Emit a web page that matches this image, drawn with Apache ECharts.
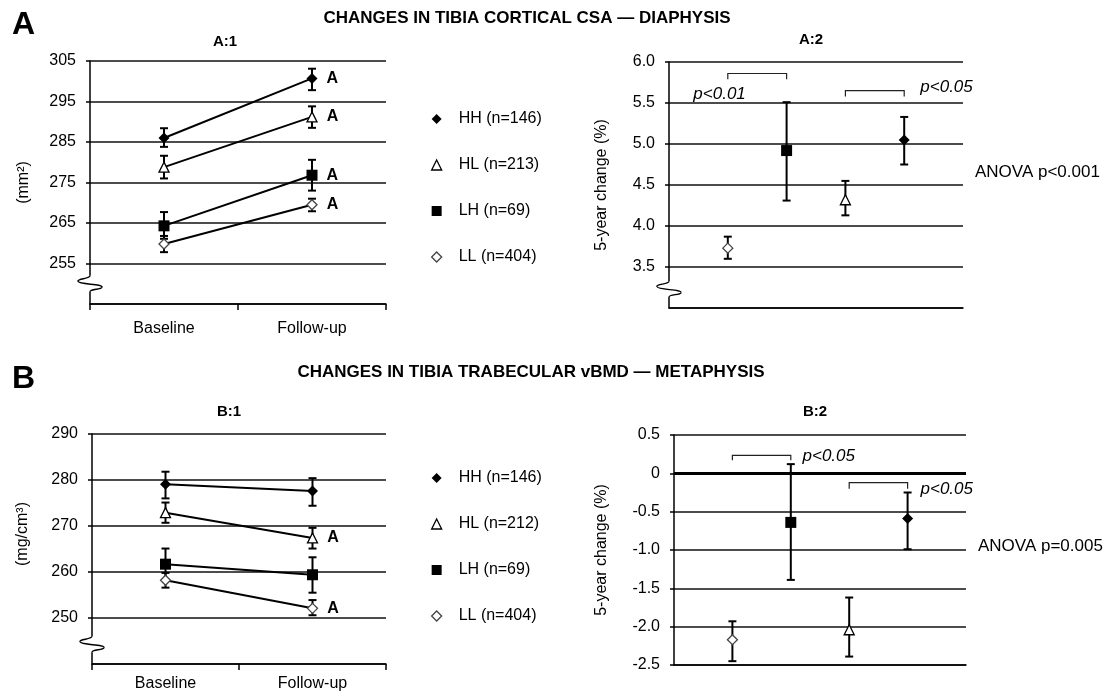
<!DOCTYPE html>
<html><head><meta charset="utf-8">
<script src="https://cdn.jsdelivr.net/npm/echarts@6/dist/echarts.min.js"></script>
<style>html,body{margin:0;padding:0;background:#fff}#c{width:1104px;height:696px}</style>
</head><body><div id="c"></div>
<script>
// ---------- DATA ----------
const timepoints = ['Baseline', 'Follow-up'];
const groupKeys = ['HH', 'HL', 'LH', 'LL'];
const legendA = ['HH (n=146)', 'HL (n=213)', 'LH (n=69)', 'LL (n=404)'];
const legendB = ['HH (n=146)', 'HL (n=212)', 'LH (n=69)', 'LL (n=404)'];

// A:1 tibia cortical CSA (mm²) — order HH, HL, LH, LL
const a1Base       = [286.0, 278.8, 264.3, 259.8];
const a1BaseLow    = [283.8, 276.0, 261.1, 257.8];
const a1BaseHigh   = [288.4, 281.6, 267.7, 261.8];
const a1Follow     = [300.7, 291.2, 276.8, 269.5];
const a1FollowLow  = [297.8, 288.5, 273.0, 267.9];
const a1FollowHigh = [303.1, 293.8, 280.6, 271.0];
const a1FollowSig  = ['A', 'A', 'A', 'A'];

// B:1 tibia trabecular vBMD (mg/cm³) — order HH, HL, LH, LL
const b1Base       = [279.1, 272.9, 261.7, 258.2];
const b1BaseLow    = [276.0, 270.7, 258.3, 256.6];
const b1BaseHigh   = [281.8, 275.1, 265.1, 259.8];
const b1Follow     = [277.6, 267.4, 259.4, 252.1];
const b1FollowLow  = [274.4, 265.1, 255.5, 250.6];
const b1FollowHigh = [280.4, 269.6, 263.2, 253.9];
const b1FollowSig  = ['', 'A', '', 'A'];

// A:2 / B:2 five-year change (%) — positions 1..4 = LL, LH, HL, HH
const changeGroups = ['LL', 'LH', 'HL', 'HH'];
const changePos = [1, 2, 3, 4];
const a2Mean = [3.73, 4.92, 4.32, 5.05];
const a2Low  = [3.60, 4.31, 4.13, 4.75];
const a2High = [3.87, 5.51, 4.55, 5.33];
const b2Mean = [-2.17, -0.64, -2.04, -0.59];
const b2Low  = [-2.45, -1.39, -2.39, -0.99];
const b2High = [-1.93, 0.12, -1.62, -0.25];

// comparison brackets: [from, to, level, tickEnd]
const a2Brackets = [[1, 2, 5.86, 5.79], [3, 4, 5.65, 5.58]];
const b2Brackets = [[1, 2, 0.235, 0.17], [3, 4, -0.12, -0.20]];
const a2PText = ['p<0.01', 'p<0.05'];
const a2PX = [0.86, 4.72];
const a2PY = [5.61, 5.69];
const b2PText = ['p<0.05', 'p<0.05'];
const b2PX = [2.65, 4.67];
const b2PY = [0.22, -0.21];
const anovaA = 'ANOVA p<0.001', anovaAY = 4.65;
const anovaB = 'ANOVA p=0.005', anovaBY = -0.95;

// ---------- STYLE ----------
const FONT = 'Liberation Sans, Arial, sans-serif';
const marker = {
  HH: {symbol: 'diamond', size: 11, color: '#000', border: '#000', bw: 0},
  HL: {symbol: 'triangle', size: 10, color: '#fff', border: '#000', bw: 1.3},
  LH: {symbol: 'rect', size: 11, color: '#000', border: '#000', bw: 0},
  LL: {symbol: 'diamond', size: 10, color: '#fff', border: '#444', bw: 1.3}
};

function errRender(params, api) {
  const x = api.value(0), lo = api.value(1), hi = api.value(2);
  const p1 = api.coord([x, hi]), p2 = api.coord([x, lo]);
  const w = 4, st = {stroke: '#000', lineWidth: 2};
  return {type: 'group', children: [
    {type: 'line', shape: {x1: p1[0], y1: p1[1], x2: p2[0], y2: p2[1]}, style: st},
    {type: 'line', shape: {x1: p1[0] - w, y1: p1[1], x2: p1[0] + w, y2: p1[1]}, style: st},
    {type: 'line', shape: {x1: p2[0] - w, y1: p2[1], x2: p2[0] + w, y2: p2[1]}, style: st}
  ]};
}
function bracketRender(params, api) {
  const a = api.coord([api.value(0), api.value(2)]);
  const b = api.coord([api.value(1), api.value(2)]);
  const t = api.coord([api.value(0), api.value(3)]);
  return {type: 'polyline', shape: {points: [[a[0], t[1]], a, b, [b[0], t[1]]]},
    style: {stroke: '#222', lineWidth: 1.2, fill: null}};
}
function textRender(texts, opts) {
  return function (params, api) {
    const p = api.coord([api.value(0), api.value(1)]);
    return {type: 'text', x: p[0] + (opts.dx || 0), y: p[1],
      style: {text: texts[params.dataIndex], fill: '#000', font: opts.font,
        align: opts.align, verticalAlign: 'middle'}};
  };
}

const series = [];
function addTimePanel(idx, names, base, bLo, bHi, fol, fLo, fHi, sig) {
  const errData = [];
  groupKeys.forEach((k, i) => {
    const m = marker[k];
    series.push({
      type: 'line', name: names[i], xAxisIndex: idx, yAxisIndex: idx, z: 3,
      symbol: m.symbol, symbolSize: m.size, showSymbol: true,
      itemStyle: {color: m.color, borderColor: m.border, borderWidth: m.bw},
      lineStyle: {color: '#000', width: 2},
      emphasis: {disabled: true},
      label: {show: false, position: 'right', distance: 9, color: '#000',
        fontWeight: 'bold', fontSize: 16, fontFamily: FONT, formatter: () => sig[i]},
      data: [base[i], {value: fol[i], label: {show: sig[i] !== ''}}]
    });
    errData.push([0, bLo[i], bHi[i]], [1, fLo[i], fHi[i]]);
  });
  series.push({type: 'custom', xAxisIndex: idx, yAxisIndex: idx, z: 2, silent: true,
    renderItem: errRender, encode: {x: 0, y: [1, 2]}, data: errData});
}
function addChangePanel(idx, mean, lo, hi, brackets, pText, pX, pY, anova, anovaY, zeroLine) {
  changeGroups.forEach((k, i) => {
    const m = marker[k];
    const s = {
      type: 'scatter', name: k + '-' + idx, xAxisIndex: idx, yAxisIndex: idx, z: 4,
      symbol: m.symbol, symbolSize: m.size, silent: true,
      itemStyle: {color: m.color, borderColor: m.border, borderWidth: m.bw, opacity: 1},
      data: [[changePos[i], mean[i]]]
    };
    if (zeroLine && i === 0) {
      s.markLine = {silent: true, symbol: 'none', label: {show: false},
        lineStyle: {color: '#000', width: 3, type: 'solid'}, data: [{yAxis: 0}]};
    }
    series.push(s);
  });
  series.push({type: 'custom', xAxisIndex: idx, yAxisIndex: idx, z: 2, silent: true,
    renderItem: errRender, encode: {x: 0, y: [1, 2]},
    data: changePos.map((p, i) => [p, lo[i], hi[i]])});
  series.push({type: 'custom', xAxisIndex: idx, yAxisIndex: idx, z: 2, silent: true,
    renderItem: bracketRender, data: brackets});
  series.push({type: 'custom', xAxisIndex: idx, yAxisIndex: idx, z: 5, silent: true,
    renderItem: textRender(pText, {font: 'italic 17px ' + FONT, align: 'center'}),
    data: pX.map((x, i) => [x, pY[i]])});
  series.push({type: 'custom', xAxisIndex: idx, yAxisIndex: idx, z: 5, silent: true,
    renderItem: textRender([anova], {font: '17px ' + FONT, align: 'left', dx: 12}),
    data: [[5, anovaY]]});
}
addTimePanel(0, legendA, a1Base, a1BaseLow, a1BaseHigh, a1Follow, a1FollowLow, a1FollowHigh, a1FollowSig);
addChangePanel(1, a2Mean, a2Low, a2High, a2Brackets, a2PText, a2PX, a2PY, anovaA, anovaAY, false);
addTimePanel(2, legendB, b1Base, b1BaseLow, b1BaseHigh, b1Follow, b1FollowLow, b1FollowHigh, b1FollowSig);
addChangePanel(3, b2Mean, b2Low, b2High, b2Brackets, b2PText, b2PX, b2PY, anovaB, anovaBY, true);

const axLine = {show: true, onZero: false, lineStyle: {color: '#000', width: 1.5}};
const split = {show: true, lineStyle: {color: '#111', width: 1.5}};
function catX(grid, margin) {
  return {type: 'category', gridIndex: grid, data: timepoints, boundaryGap: true,
    axisLine: axLine, axisTick: {show: true, length: 6, lineStyle: {color: '#000', width: 1.5}},
    axisLabel: {color: '#000', fontSize: 16, fontFamily: FONT, margin: margin},
    splitLine: {show: false}};
}
function valX(grid) {
  return {type: 'value', gridIndex: grid, min: 0, max: 5, axisLine: axLine,
    axisTick: {show: false}, axisLabel: {show: false}, splitLine: {show: false}};
}
function valY(grid, min, max, interval, name, gap, fmt, namePad) {
  return {type: 'value', gridIndex: grid, min: min, max: max, interval: interval,
    axisLine: axLine, axisTick: {show: true, length: 4, lineStyle: {color: '#000', width: 1.5}},
    axisLabel: {color: '#000', fontSize: 16, fontFamily: FONT, margin: 14, formatter: fmt,
      showMinLabel: grid === 3},
    splitLine: split,
    name: name, nameLocation: 'middle', nameGap: gap, nameRotate: 90,
    nameTextStyle: {color: '#000', fontSize: 16, fontFamily: FONT, padding: namePad || 0}};
}
function legendData(names) {
  return names.map((n, i) => {
    const m = marker[groupKeys[i]];
    return {name: n, icon: m.symbol, itemStyle: {color: m.color, borderColor: m.border, borderWidth: m.bw}};
  });
}
const legendCommon = {orient: 'vertical', itemGap: 26, itemWidth: 10, itemHeight: 10,
  selectedMode: false, padding: 0,
  textStyle: {color: '#000', fontSize: 16, fontFamily: FONT, lineHeight: 20, padding: [0, 0, 0, 12]}};

const boldT = (t, size) => ({text: t, textStyle: {fontFamily: FONT, fontWeight: 'bold', fontSize: size, color: '#000'}});
const option = {
  animation: false,
  backgroundColor: '#fff',
  textStyle: {fontFamily: FONT},
  title: [
    Object.assign(boldT('A', 32), {left: 12, top: 9, padding: 0}),
    Object.assign(boldT('CHANGES IN TIBIA CORTICAL CSA \u2014 DIAPHYSIS', 17), {left: 527, top: 10, textAlign: 'center', padding: 0}),
    Object.assign(boldT('A:1', 15), {left: 225, top: 34, textAlign: 'center', padding: 0}),
    Object.assign(boldT('A:2', 15), {left: 811, top: 32, textAlign: 'center', padding: 0}),
    Object.assign(boldT('B', 32), {left: 12, top: 363, padding: 0}),
    Object.assign(boldT('CHANGES IN TIBIA TRABECULAR vBMD \u2014 METAPHYSIS', 17), {left: 531, top: 364, textAlign: 'center', padding: 0}),
    Object.assign(boldT('B:1', 15), {left: 229, top: 404, textAlign: 'center', padding: 0}),
    Object.assign(boldT('B:2', 15), {left: 815, top: 404, textAlign: 'center', padding: 0})
  ],
  legend: [
    Object.assign({left: 431, top: 109, data: legendData(legendA)}, legendCommon),
    Object.assign({left: 431, top: 468, data: legendData(legendB)}, legendCommon)
  ],
  grid: [
    {left: 90, top: 61, width: 296, height: 243},
    {left: 669, top: 62, width: 294, height: 246},
    {left: 92, top: 434, width: 294, height: 230},
    {left: 674, top: 435, width: 292, height: 230}
  ],
  xAxis: [catX(0, 17), valX(1), catX(2, 12), valX(3)],
  yAxis: [
    valY(0, 245, 305, 10, '(mm\u00b2)', 58, v => String(v)),
    valY(1, 3.0, 6.0, 0.5, '5-year change (%)', 59, v => v.toFixed(1)),
    valY(2, 240, 290, 10, '(mg/cm\u00b3)', 61, v => String(v), [0, 0, 0, 30]),
    valY(3, -2.5, 0.5, 0.5, '5-year change (%)', 64, v => (v === 0 ? '0' : v.toFixed(1)))
  ],
  series: series
};
const chart = echarts.init(document.getElementById('c'));
chart.setOption(option);

// axis-break squiggles on the y axes of A:1, A:2, B:1
function squiggle(x, y) {
  const st = {fill: null, stroke: '#000', lineWidth: 1.4};
  const seg = (x1, y1, c1x, c1y, c2x, c2y, x2, y2) => ({type: 'bezierCurve', z: 101,
    shape: {x1: x + x1, y1: y + y1, cpx1: x + c1x, cpy1: y + c1y, cpx2: x + c2x, cpy2: y + c2y, x2: x + x2, y2: y + y2},
    style: st});
  return [
    {type: 'rect', z: 100, shape: {x: x - 2, y: y - 8, width: 4, height: 16}, style: {fill: '#fff'}},
    seg(0, -8, 0, -5, -13, -5, -12, -2.5),
    seg(-12, -2.5, -11, 1, 13, 0, 12, 3.5),
    seg(12, 3.5, 11, 6, 0, 5, 0, 8)
  ];
}
const g = [];
[[0, 250], [1, 3.23], [2, 244.3]].forEach(([ax, v]) => {
  const y = chart.convertToPixel({yAxisIndex: ax}, v);
  const x = option.grid[ax].left;
  g.push(...squiggle(x, y));
});
chart.setOption({graphic: g});
</script></body></html>
